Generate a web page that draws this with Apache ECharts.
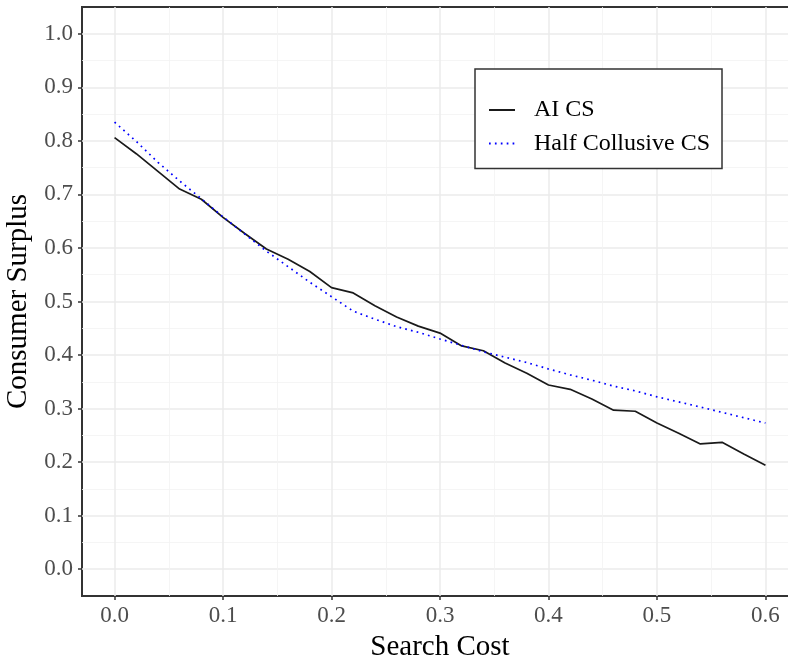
<!DOCTYPE html>
<html>
<head>
<meta charset="utf-8">
<script src="https://cdn.jsdelivr.net/npm/echarts@6/dist/echarts.min.js"></script>
<style>
  html, body { margin: 0; padding: 0; background: #fff; }
  #chart { width: 788px; height: 659px; }
</style>
</head>
<body>
<div id="chart"></div>
<script>
// search cost grid
const searchCost = [0, 0.02, 0.04, 0.06, 0.08, 0.1, 0.12, 0.14, 0.16, 0.18, 0.2,
  0.22, 0.24, 0.26, 0.28, 0.3, 0.32, 0.34, 0.36, 0.38, 0.4,
  0.42, 0.44, 0.46, 0.48, 0.5, 0.52, 0.54, 0.56, 0.58, 0.6]
const aiCS = [0.806, 0.776, 0.743, 0.710, 0.691, 0.657, 0.627, 0.598, 0.579, 0.556, 0.526,
  0.516, 0.492, 0.471, 0.454, 0.441, 0.417, 0.408, 0.385, 0.366, 0.344,
  0.336, 0.318, 0.297, 0.295, 0.273, 0.254, 0.234, 0.237, 0.215, 0.194]
const halfCS = [0.835, 0.799, 0.760, 0.725, 0.692, 0.658, 0.626, 0.594, 0.565, 0.536, 0.509,
  0.482, 0.467, 0.453, 0.4425, 0.430, 0.418, 0.406, 0.396, 0.386, 0.374,
  0.363, 0.353, 0.342, 0.333, 0.322, 0.3125, 0.303, 0.293, 0.283, 0.273]
const xTicks = [0, 0.1, 0.2, 0.3, 0.4, 0.5, 0.6]
const xMinor = [0.05, 0.15, 0.25, 0.35, 0.45, 0.55]
const yTicks = [0, 0.1, 0.2, 0.3, 0.4, 0.5, 0.6, 0.7, 0.8, 0.9, 1.0]
const yMinor = [0.05, 0.15, 0.25, 0.35, 0.45, 0.55, 0.65, 0.75, 0.85, 0.95]

const serif = '"Liberation Serif", "Times New Roman", serif'
const pair = (xs, ys) => xs.map((x, i) => [x, ys[i]])

// ggplot style axis: major ticks + labels, minor grid on a twin axis
function axisPair(kind, ticks, minor, range) {
  const base = {
    type: 'value', min: range[0], max: range[1],
    position: kind === 'x' ? 'bottom' : 'left',
  }
  const main = Object.assign({}, base, {
    axisLine: { show: false, onZero: false },
    axisTick: { show: true, inside: false, length: 4, customValues: ticks, lineStyle: { color: '#333', width: 1.5 } },
    axisLabel: {
      customValues: ticks, margin: kind === 'x' ? 8 : 9,
      color: '#4d4d4d', fontFamily: serif, fontSize: 23,
      formatter: (v) => v.toFixed(1),
    },
    splitLine: { show: true, lineStyle: { color: '#ebebeb', width: 1.5 } },
  })
  const twin = Object.assign({}, base, {
    axisLine: { show: false, onZero: false },
    axisTick: { show: false, customValues: minor },
    axisLabel: { show: false, customValues: minor },
    splitLine: { show: true, lineStyle: { color: '#f3f3f3', width: 0.8 } },
  })
  return [twin, main]
}

const xAxes = axisPair('x', xTicks, xMinor, [-0.03, 0.63])
const yAxes = axisPair('y', yTicks, yMinor, [-0.05, 1.05])
xAxes[1].name = 'Search Cost'
xAxes[1].nameLocation = 'middle'
xAxes[1].nameGap = 30
xAxes[1].nameTextStyle = { fontFamily: serif, fontSize: 29, color: '#000', lineHeight: 30 }
yAxes[1].name = 'Consumer Surplus'
yAxes[1].nameLocation = 'middle'
yAxes[1].nameGap = 45
yAxes[1].nameTextStyle = { fontFamily: serif, fontSize: 29, color: '#000', lineHeight: 30 }

const chart = echarts.init(document.getElementById('chart'), null, { renderer: 'canvas' })
chart.setOption({
  animation: false,
  backgroundColor: '#fff',
  grid: {
    left: 82, top: 7, width: 716, height: 589,
    outerBoundsMode: 'none', containLabel: false,
    show: true, borderColor: '#333', borderWidth: 2, backgroundColor: 'transparent',
  },
  xAxis: xAxes,
  yAxis: yAxes,
  legend: {
    orient: 'vertical',
    left: 475, top: 69,
    padding: [29, 12, 13, 13],
    itemWidth: 26, itemHeight: 14, itemGap: 9.4,
    backgroundColor: '#fff',
    borderColor: '#333', borderWidth: 1.5, borderRadius: 0,
    itemStyle: { opacity: 0 },
    textStyle: { fontFamily: serif, fontSize: 24, color: '#000', lineHeight: 24, padding: [0, 0, 0, 14] },
    data: ['AI CS', 'Half Collusive CS'],
  },
  series: [
    {
      name: 'AI CS', type: 'line', xAxisIndex: 1, yAxisIndex: 1,
      data: pair(searchCost, aiCS),
      symbol: 'none',
      lineStyle: { color: '#1a1a1a', width: 1.7 },
      itemStyle: { color: '#1a1a1a' },
    },
    {
      name: 'Half Collusive CS', type: 'line', xAxisIndex: 1, yAxisIndex: 1,
      data: pair(searchCost, halfCS),
      symbol: 'none',
      lineStyle: { color: '#0000ff', width: 1.7, type: [1.7, 4.2], cap: 'butt' },
      itemStyle: { color: '#0000ff' },
    },
  ],
})
</script>
</body>
</html>
